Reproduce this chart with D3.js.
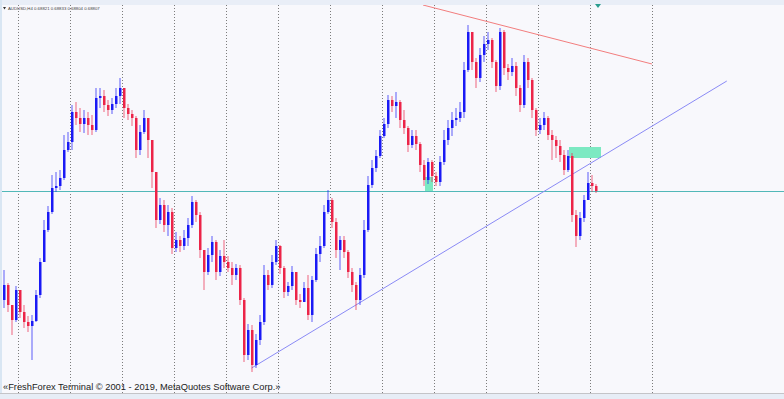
<!DOCTYPE html>
<html>
<head>
<meta charset="utf-8">
<script src="https://cdn.jsdelivr.net/npm/d3@7"></script>
<style>
  html, body { margin: 0; padding: 0; background: #f8f8fc; }
  svg { display: block; }
</style>
</head>
<body>
<svg id="chart" width="784" height="399"></svg>
<script>
const $ = document.getElementById.bind(document);

// AUDUSD H4 bars (open of each bar = close of the bar before)
const symbol = "AUDUSD,H4";
const headerQuote = ["0.68821", "0.68833", "0.68804", "0.68807"];
const firstOpen = 0.68262;

const closes = [
  0.68337, 0.68237, 0.68162, 0.68312, 0.68202, 0.68152, 0.68132, 0.68157, 0.68287, 0.68452,
  0.68612, 0.68702, 0.68822, 0.68832, 0.68872, 0.69012, 0.69052, 0.69202, 0.69172, 0.69142,
  0.69172, 0.69137, 0.69112, 0.69272, 0.69282, 0.69237, 0.69212, 0.69242, 0.69282, 0.69322,
  0.69222, 0.69192, 0.69172, 0.69012, 0.69102, 0.69172, 0.69062, 0.68902, 0.68662, 0.68737,
  0.68637, 0.68702, 0.68522, 0.68562, 0.68532, 0.68572, 0.68637, 0.68752, 0.68687, 0.68512,
  0.68402, 0.68487, 0.68552, 0.68402, 0.68482, 0.68452, 0.68422, 0.68387, 0.68422, 0.68262,
  0.67987, 0.68112, 0.67937, 0.68062, 0.68152, 0.68387, 0.68337, 0.68452, 0.68532, 0.68422,
  0.68302, 0.68332, 0.68402, 0.68262, 0.68252, 0.68322, 0.68187, 0.68362, 0.68492, 0.68532,
  0.68702, 0.68762, 0.68652, 0.68512, 0.68562, 0.68502, 0.68402, 0.68337, 0.68262, 0.68387,
  0.68612, 0.68837, 0.68922, 0.68982, 0.69082, 0.69142, 0.69262, 0.69232, 0.69252, 0.69162,
  0.69122, 0.69037, 0.69082, 0.69042, 0.68937, 0.68862, 0.68952, 0.68882, 0.68852, 0.68952,
  0.69062, 0.69122, 0.69162, 0.69172, 0.69202, 0.69412, 0.69602, 0.69452, 0.69372, 0.69487,
  0.69542, 0.69562, 0.69452, 0.69332, 0.69602, 0.69422, 0.69402, 0.69432, 0.69322, 0.69237,
  0.69452, 0.69362, 0.69212, 0.69112, 0.69137, 0.69172, 0.69087, 0.69062, 0.69032, 0.68987,
  0.68912, 0.68982, 0.68687, 0.68582, 0.68672, 0.68762, 0.68847, 0.68832, 0.68807
];

const highs = [
  0.68412, 0.68347, 0.68232, 0.68332, 0.68297, 0.68237, 0.68182, 0.68187, 0.68312, 0.68472,
  0.68662, 0.68732, 0.68887, 0.68902, 0.68912, 0.69087, 0.69102, 0.69237, 0.69252, 0.69222,
  0.69212, 0.69202, 0.69187, 0.69322, 0.69322, 0.69312, 0.69262, 0.69272, 0.69322, 0.69372,
  0.69322, 0.69242, 0.69212, 0.69182, 0.69137, 0.69212, 0.69162, 0.69022, 0.68837, 0.68772,
  0.68762, 0.68737, 0.68722, 0.68602, 0.68582, 0.68612, 0.68672, 0.68782, 0.68762, 0.68702,
  0.68487, 0.68522, 0.68582, 0.68562, 0.68512, 0.68562, 0.68482, 0.68452, 0.68442, 0.68437,
  0.68272, 0.68142, 0.68137, 0.68092, 0.68187, 0.68437, 0.68412, 0.68487, 0.68562, 0.68537,
  0.68432, 0.68352, 0.68432, 0.68402, 0.68292, 0.68352, 0.68387, 0.68382, 0.68522, 0.68582,
  0.68737, 0.68812, 0.68772, 0.68672, 0.68582, 0.68582, 0.68512, 0.68422, 0.68352, 0.68422,
  0.68662, 0.68882, 0.68962, 0.69012, 0.69112, 0.69172, 0.69287, 0.69282, 0.69302, 0.69262,
  0.69212, 0.69132, 0.69112, 0.69112, 0.69052, 0.68962, 0.68972, 0.68962, 0.68902, 0.68982,
  0.69112, 0.69162, 0.69202, 0.69222, 0.69252, 0.69452, 0.69637, 0.69592, 0.69472, 0.69522,
  0.69582, 0.69602, 0.69572, 0.69462, 0.69622, 0.69612, 0.69442, 0.69472, 0.69452, 0.69337,
  0.69487, 0.69472, 0.69372, 0.69222, 0.69172, 0.69202, 0.69182, 0.69112, 0.69082, 0.69062,
  0.69012, 0.69012, 0.68997, 0.68712, 0.68702, 0.68787, 0.68902, 0.68887, 0.68842
];

const lows = [
  0.68222, 0.68202, 0.68087, 0.68152, 0.68172, 0.68122, 0.68102, 0.67962, 0.68152, 0.68272,
  0.68452, 0.68602, 0.68692, 0.68802, 0.68812, 0.68862, 0.69002, 0.69012, 0.69137, 0.69102,
  0.69097, 0.69087, 0.69087, 0.69102, 0.69222, 0.69202, 0.69182, 0.69192, 0.69222, 0.69242,
  0.69172, 0.69162, 0.69132, 0.68972, 0.68987, 0.69092, 0.68972, 0.68822, 0.68622, 0.68642,
  0.68602, 0.68582, 0.68492, 0.68502, 0.68502, 0.68512, 0.68532, 0.68622, 0.68652, 0.68472,
  0.68312, 0.68387, 0.68452, 0.68362, 0.68382, 0.68422, 0.68402, 0.68337, 0.68362, 0.68237,
  0.67952, 0.67962, 0.67902, 0.67922, 0.68037, 0.68137, 0.68312, 0.68322, 0.68437, 0.68392,
  0.68272, 0.68282, 0.68312, 0.68237, 0.68222, 0.68262, 0.68162, 0.68152, 0.68352, 0.68452,
  0.68522, 0.68692, 0.68622, 0.68472, 0.68412, 0.68472, 0.68372, 0.68302, 0.68212, 0.68237,
  0.68372, 0.68602, 0.68822, 0.68902, 0.68972, 0.69072, 0.69122, 0.69202, 0.69172, 0.69122,
  0.69092, 0.69002, 0.69022, 0.69012, 0.68902, 0.68832, 0.68842, 0.68852, 0.68832, 0.68832,
  0.68937, 0.69037, 0.69082, 0.69132, 0.69152, 0.69172, 0.69402, 0.69412, 0.69322, 0.69352,
  0.69452, 0.69512, 0.69422, 0.69302, 0.69312, 0.69387, 0.69362, 0.69382, 0.69282, 0.69202,
  0.69222, 0.69322, 0.69172, 0.69082, 0.69092, 0.69112, 0.69062, 0.68962, 0.68972, 0.68952,
  0.68887, 0.68902, 0.68652, 0.68527, 0.68562, 0.68652, 0.68762, 0.68802, 0.68797
];

// period separators, in bar numbers
const separators = [3.5, 16.5, 29.5, 42.5, 55.5, 68.5, 81.5, 94.5, 107.5, 120.5, 133.5, 146.5, 162];

const bidPrice = 0.68807;
// trend lines: [bar, price] pairs
const supportLine = [[61.9, 0.67922], [180.7, 0.69357]];
const resistLine = [[104.75, 0.69737], [162, 0.69442]];
// zones: bar from, bar to, price top, price bottom
const zones = [
  [141.25, 149.25, 0.69027, 0.68972],
  [105.25, 107.25, 0.68877, 0.68802]
];

const copyright = "«FreshForex Terminal © 2001 - 2019, MetaQuotes Software Corp.»";

window.addEventListener("DOMContentLoaded", draw);

function draw() {
    const svg = d3.select("#chart");
    const W = 784, H = 399;
    const top = 5, bottom = 393;

    const x = d3.scaleLinear().domain([0, closes.length - 1]).range([4, 596]);
    const y = d3.scaleLinear().domain([0.67797, 0.69737]).range([bottom, top]);

    const bars = closes.map((c, i) => ({
	i: i,
	open: i == 0 ? firstOpen : closes[i - 1],
	close: c,
	high: highs[i],
	low: lows[i]
    }));

    svg.append("rect").attr("width", W).attr("height", H).attr("fill", "#f8f8fc");

    svg.append("defs").append("clipPath").attr("id", "plot")
	.append("rect").attr("x", 0).attr("y", top).attr("width", W).attr("height", bottom - top);

    const plot = svg.append("g").attr("clip-path", "url(#plot)");

    // separators
    plot.selectAll(".sep")
	.data(separators)
	.enter().append("line")
	.attr("class", "sep")
	.attr("x1", (d) => Math.round(x(d)) + 0.5)
	.attr("x2", (d) => Math.round(x(d)) + 0.5)
	.attr("y1", top).attr("y2", bottom)
	.attr("stroke", "#7c7c7c")
	.attr("stroke-dasharray", "1,2");

    // zones
    plot.selectAll(".zone")
	.data(zones)
	.enter().append("rect")
	.attr("x", (d) => x(d[0]))
	.attr("width", (d) => x(d[1]) - x(d[0]))
	.attr("y", (d) => y(d[2]))
	.attr("height", (d) => y(d[3]) - y(d[2]))
	.attr("fill", "#7ce9c2");

    // bid line
    plot.append("line")
	.attr("x1", 0).attr("x2", W)
	.attr("y1", Math.round(y(bidPrice)) + 0.5).attr("y2", Math.round(y(bidPrice)) + 0.5)
	.attr("stroke", "#52b8b8");

    const line = d3.line()
	.x((d) => x(d[0]))
	.y((d) => y(d[1]));

    plot.append("path").attr("d", line(supportLine))
	.attr("stroke", "#8a8af5").attr("fill", "none");
    plot.append("path").attr("d", line(resistLine))
	.attr("stroke", "#f27d7d").attr("fill", "none");

    // candles
    const upCol = "#1a1af5", downCol = "#ec2448";
    const candle = plot.selectAll(".bar")
	  .data(bars)
	  .enter().append("g")
	  .attr("class", "bar");

    candle.append("line")
	.attr("x1", (d) => x(d.i)).attr("x2", (d) => x(d.i))
	.attr("y1", (d) => y(d.high)).attr("y2", (d) => y(d.low))
	.attr("stroke", (d) => d.close >= d.open ? upCol : downCol)
	.attr("stroke-width", 2)
	.attr("stroke-opacity", 0.35);

    candle.append("rect")
	.attr("x", (d) => x(d.i) - 1)
	.attr("width", 2.5)
	.attr("y", (d) => y(Math.max(d.open, d.close)))
	.attr("height", (d) => Math.max(1, Math.abs(y(d.open) - y(d.close))))
	.attr("fill", (d) => d.close >= d.open ? upCol : downCol);

    // frame
    svg.append("rect").attr("x", 0).attr("y", 0).attr("width", W).attr("height", top).attr("fill", "#e9eef7");
    svg.append("rect").attr("x", 0).attr("y", 0).attr("width", 2).attr("height", H).attr("fill", "#d9e6f3");
    svg.append("rect").attr("x", 0).attr("y", bottom + 1).attr("width", W).attr("height", H - bottom - 1).attr("fill", "#e7edf6");
    svg.append("line").attr("x1", 0).attr("x2", W).attr("y1", bottom + 0.5).attr("y2", bottom + 0.5)
	.attr("stroke", "#c4c4c8");

    // shift marker
    svg.append("path").attr("d", "M595,4 L601,4 L598,8 Z").attr("fill", "#2a9d8f");

    // header
    svg.append("path").attr("d", "M3,7 L6,7 L4.5,9.5 Z").attr("fill", "#333");
    svg.append("text")
	.attr("x", 8).attr("y", 9.5)
	.attr("font-family", "Liberation Sans, Arial, sans-serif")
	.attr("font-size", 4.3)
	.attr("fill", "#444")
	.text(symbol + "  " + headerQuote.join(" "));

    svg.append("text")
	.attr("x", 3).attr("y", 390)
	.attr("font-family", "Liberation Sans, Arial, sans-serif")
	.attr("font-size", 9.3)
	.attr("fill", "#222")
	.text(copyright);
}
</script>
</body>
</html>
